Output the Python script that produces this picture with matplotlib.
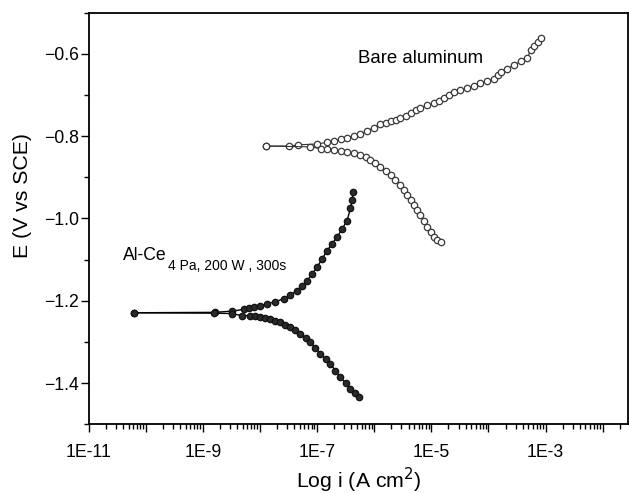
import numpy as np
import matplotlib
matplotlib.use('Agg')
import matplotlib.pyplot as plt
from matplotlib.ticker import LogLocator, FuncFormatter, NullFormatter, MultipleLocator

plt.rcParams['font.family'] = ['Liberation Sans', 'DejaVu Sans']

# log10 of current density (A cm^-2) and potential (V vs SCE)
bare_anodic_logi = [-7.895, -7.486, -7.328, -7.0, -6.83, -6.71, -6.59, -6.47, -6.35, -6.24,
                    -6.12, -6.01, -5.89, -5.80, -5.71, -5.62, -5.54, -5.45, -5.36, -5.27,
                    -5.19, -5.07, -4.95, -4.86, -4.78, -4.69, -4.60, -4.49, -4.37, -4.25,
                    -4.14, -4.02, -3.90, -3.84, -3.78, -3.67, -3.55, -3.43, -3.32, -3.26,
                    -3.20, -3.14, -3.08]
bare_anodic_E = [-0.824, -0.824, -0.821, -0.819, -0.815, -0.811, -0.808, -0.804, -0.799, -0.794,
                 -0.787, -0.779, -0.770, -0.767, -0.764, -0.760, -0.757, -0.751, -0.744, -0.737,
                 -0.731, -0.725, -0.720, -0.714, -0.708, -0.700, -0.693, -0.688, -0.684, -0.678,
                 -0.672, -0.666, -0.660, -0.652, -0.644, -0.636, -0.627, -0.618, -0.610, -0.591,
                 -0.580, -0.571, -0.561]

bare_cathodic_logi = [-7.895, -7.117, -6.94, -6.82, -6.71, -6.59, -6.47, -6.36, -6.24, -6.15,
                      -6.065, -5.98, -5.89, -5.80, -5.714, -5.63, -5.54, -5.48, -5.42, -5.36,
                      -5.305, -5.25, -5.19, -5.13, -5.07, -5.01, -4.954, -4.90, -4.837]
bare_cathodic_E = [-0.824, -0.826, -0.830, -0.832, -0.834, -0.836, -0.838, -0.841, -0.846, -0.851,
                   -0.858, -0.866, -0.875, -0.884, -0.895, -0.906, -0.919, -0.931, -0.944, -0.956,
                   -0.968, -0.980, -0.992, -1.007, -1.021, -1.033, -1.045, -1.052, -1.057]

alce_anodic_logi = [-10.21, -8.784, -8.491, -8.288, -8.20, -8.112, -8.0, -7.877, -7.73, -7.586,
                    -7.47, -7.351, -7.26, -7.175, -7.09, -7.0, -6.91, -6.825, -6.74, -6.649,
                    -6.56, -6.474, -6.416, -6.386, -6.368]
alce_anodic_E = [-1.229, -1.228, -1.225, -1.221, -1.218, -1.216, -1.212, -1.207, -1.202, -1.195,
                 -1.186, -1.175, -1.163, -1.151, -1.135, -1.118, -1.098, -1.078, -1.062, -1.045,
                 -1.025, -1.005, -0.975, -0.956, -0.936]

alce_cathodic_logi = [-10.21, -8.814, -8.491, -8.316, -8.17, -8.08, -7.995, -7.91, -7.82, -7.73,
                      -7.644, -7.56, -7.47, -7.38, -7.293, -7.20, -7.117, -7.03, -6.942, -6.85,
                      -6.767, -6.68, -6.591, -6.50, -6.416, -6.34, -6.27]
alce_cathodic_E = [-1.229, -1.230, -1.231, -1.236, -1.236, -1.238, -1.240, -1.242, -1.244, -1.248,
                   -1.252, -1.258, -1.264, -1.272, -1.280, -1.290, -1.300, -1.314, -1.329, -1.341,
                   -1.353, -1.370, -1.386, -1.400, -1.414, -1.425, -1.434]

fig = plt.figure(figsize=(6.29, 4.94), dpi=100)
ax = fig.add_axes([0.141, 0.1411, 0.8579, 0.8332])

bare_style = dict(color='#333333', lw=0.8, marker='o', ms=4.6, mfc='white', mec='#3a3a3a', mew=0.9)
alce_style = dict(color='black', lw=1.0, marker='o', ms=4.6, mfc='#2a2a2a', mec='#111111', mew=0.9)

ax.plot(10 ** np.array(bare_anodic_logi), bare_anodic_E, **bare_style)
ax.plot(10 ** np.array(bare_cathodic_logi), bare_cathodic_E, **bare_style)
ax.plot(10 ** np.array(alce_anodic_logi), alce_anodic_E, **alce_style)
ax.plot(10 ** np.array(alce_cathodic_logi), alce_cathodic_E, **alce_style)

ax.set_xscale('log')
ax.set_xlim(1e-11, 10 ** -1.55)
ax.set_ylim(-1.5, -0.5)

ax.xaxis.set_major_locator(LogLocator(base=10, numticks=30))
ax.xaxis.set_minor_locator(LogLocator(base=10, subs=np.arange(2, 10), numticks=30))
ax.xaxis.set_minor_formatter(NullFormatter())

def xfmt(v, pos):
    e = int(round(np.log10(v)))
    return '1E%d' % e if e % 2 else ''

ax.xaxis.set_major_formatter(FuncFormatter(xfmt))
ax.yaxis.set_major_locator(MultipleLocator(0.2))
ax.yaxis.set_minor_locator(MultipleLocator(0.1))
ax.yaxis.set_major_formatter(FuncFormatter(lambda v, p: ('%.1f' % v).replace('-', '\u2212')))

ax.tick_params(which='both', direction='out', top=False, right=False, width=1.0, labelsize=12.7)
ax.tick_params(axis='x', which='major', length=6, pad=8)
ax.tick_params(axis='x', which='minor', length=3.5)
ax.tick_params(axis='y', which='major', length=6, pad=1)
ax.tick_params(axis='y', which='minor', length=3.5)
for s in ax.spines.values():
    s.set_linewidth(1.3)

ax.set_xlabel('Log i (A cm$^2$)', fontsize=15.3, labelpad=3.5)
ax.set_ylabel('E (V vs SCE)', fontsize=15.3, labelpad=6)
ax.yaxis.set_label_coords(-0.105, 0.557)

ax.text(5.3e-7, -0.6217, 'Bare aluminum', fontsize=13.4, va='baseline')
t1 = ax.text(4.05e-11, -1.102, 'Al-Ce', fontsize=12.7, va='baseline')
ax.annotate('4 Pa, 200 W , 300s', xy=(1, 0), xycoords=t1, xytext=(0.5, -4),
            textcoords='offset points', fontsize=10, va='baseline')

fig.savefig('out.png', dpi=100)
